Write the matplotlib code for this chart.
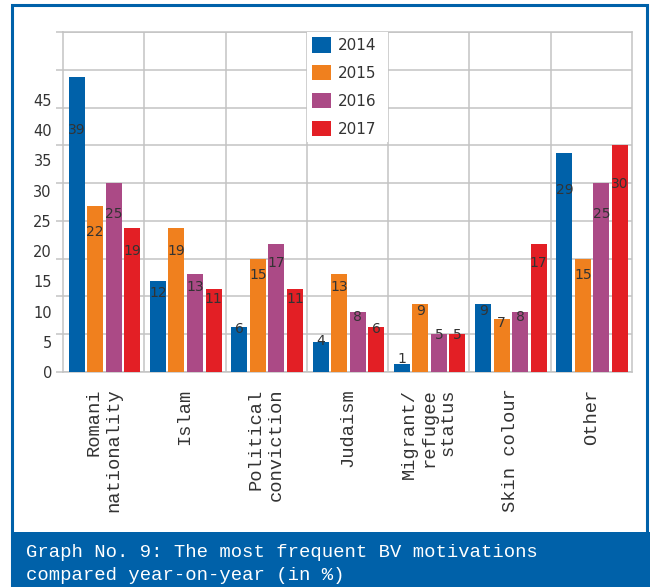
import numpy as np
import matplotlib
matplotlib.use("Agg")
import matplotlib.pyplot as plt
from matplotlib.patches import Rectangle

BLUE = "#0061a9"
ORANGE = "#f0801e"
PURPLE = "#ab4a86"
RED = "#e31f25"
GRID = "#c3c3c3"
TEXT = "#333333"
MONO = "Liberation Mono"

categories = [
    "Romani\nnationality",
    "Islam",
    "Political\nconviction",
    "Judaism",
    "Migrant/\nrefugee\nstatus",
    "Skin colour",
    "Other",
]
years = ["2014", "2015", "2016", "2017"]
y2014 = [39, 12, 6, 4, 1, 9, 29]
y2015 = [22, 19, 15, 13, 9, 7, 15]
y2016 = [25, 13, 17, 8, 5, 8, 25]
y2017 = [19, 11, 11, 6, 5, 17, 30]
yticks = [0, 5, 10, 15, 20, 25, 30, 35, 40, 45]
caption = [
    "Graph No. 9: The most frequent BV motivations",
    "compared year-on-year (in %)",
]

# the original's tick and value labels sit on a squeezed scale
LABEL_SCALE = 0.8


def main():
    fig = plt.figure(figsize=(6.5, 5.87), dpi=100)
    W, H = 650, 587

    # outer frame + caption band
    fig.add_artist(Rectangle((12 / W, 0), 635 / W, 582 / H, transform=fig.transFigure,
                             fill=False, edgecolor=BLUE, linewidth=2.2))
    fig.add_artist(Rectangle((12 / W, 0), 638 / W, 55 / H, transform=fig.transFigure,
                             facecolor=BLUE, edgecolor="none"))
    for i, line in enumerate(caption):
        fig.text(26 / W, 1 - (557 + 23 * i) / H, line, color="white", family=MONO,
                 fontsize=13.6, va="baseline", ha="left")

    ax = fig.add_axes([63 / W, 1 - 372 / H, 569 / W, 340 / H])

    x = np.arange(len(categories))
    series = [y2014, y2015, y2016, y2017]
    colors = [BLUE, ORANGE, PURPLE, RED]
    step, width = 0.228, 0.197
    for k, (vals, c, yr) in enumerate(zip(series, colors, years)):
        pos = x + (k - 1.5) * step + 0.01
        ax.bar(pos, vals, width=width, color=c, label=yr, zorder=3)
        for px, v in zip(pos, vals):
            ax.text(px, v * LABEL_SCALE + 0.35, str(v), ha="center", va="baseline",
                    fontsize=10, color=TEXT, zorder=4)

    ax.set_xlim(-0.5, len(categories) - 0.5)
    ax.set_ylim(0, 45)

    ax.yaxis.remove_overlapping_locs = False
    ax.set_yticks(yticks, [""] * len(yticks))
    ax.set_yticks(np.array(yticks) * LABEL_SCALE, [str(t) for t in yticks], minor=True)
    ax.tick_params(axis="y", which="major", length=5, width=1.1, color=GRID)
    ax.tick_params(axis="y", which="minor", length=0, pad=8, labelsize=10.5,
                   labelcolor=TEXT)

    ax.set_xticks(x)
    ax.set_xticklabels(categories, rotation=90, ha="center", va="top",
                       multialignment="right", family=MONO, fontsize=13.5,
                       color=TEXT, linespacing=1.2)
    ax.set_xticks(x[:-1] + 0.5, minor=True)
    ax.tick_params(axis="x", which="both", length=0, pad=12)

    ax.grid(True, which="major", axis="y", color=GRID, linewidth=1.1, zorder=0)
    ax.grid(True, which="minor", axis="x", color=GRID, linewidth=1.1, zorder=0)
    ax.set_axisbelow(True)
    for s in ax.spines.values():
        s.set_color(GRID)
        s.set_linewidth(1.1)

    cell_left = (2.5 + 0.5) / len(categories)
    leg = ax.legend(loc="upper left", bbox_to_anchor=(cell_left, 1.0, 1 / len(categories), 0),
                    mode="expand", fontsize=11, handlelength=1.2, handleheight=1.15,
                    handletextpad=0.45, labelspacing=0.8, borderpad=0.35,
                    borderaxespad=0, frameon=True, fancybox=False)
    leg.get_frame().set_facecolor("white")
    leg.get_frame().set_edgecolor("none")
    leg.get_frame().set_alpha(1)
    leg.set_zorder(5)
    for t in leg.get_texts():
        t.set_color(TEXT)

    fig.savefig("out.png", dpi=100, facecolor="white")


if __name__ == "__main__":
    main()
